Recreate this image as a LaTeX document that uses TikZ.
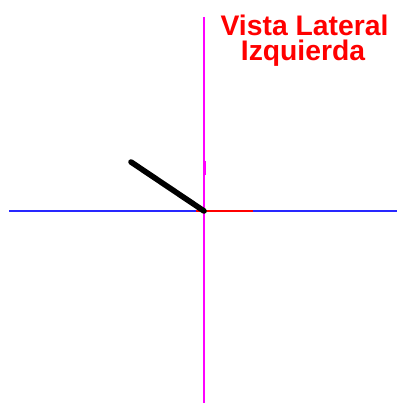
\documentclass[tikz,border=0pt]{standalone}
\usepackage{fontspec}
\setmainfont{Liberation Sans}
\begin{document}
\begin{tikzpicture}[x=1pt,y=-1pt,
  axisv/.style={draw={rgb,255:red,255;green,0;blue,255},line width=1.6pt},
  axish/.style={draw={rgb,255:red,40;green,40;blue,255},line width=1.4pt},
  axisr/.style={draw=red,line width=1.4pt},
  stick/.style={draw=black,line width=5.6pt,line cap=round},
  tick/.style={draw={rgb,255:red,255;green,0;blue,255},line width=2.4pt},
  title/.style={text=red,font=\fontsize{28.3}{24}\selectfont\bfseries,inner sep=0pt,anchor=base}]
\useasboundingbox[fill=white] (0,0) rectangle (397,403);
\coordinate (vtop) at (204,17);
\coordinate (vbot) at (204,403);
\coordinate (hl) at (9,211);
\coordinate (hr) at (397,211);
\coordinate (rl) at (196,211);
\coordinate (rr) at (253,211);
\coordinate (o) at (204,211);
\coordinate (s) at (131,162);
\coordinate (t1) at (205,161);
\coordinate (t2) at (205,175);
\draw[axisv] (vtop) -- (vbot);
\draw[axish] (hl) -- (hr);
\draw[axisr] (rl) -- (rr);
\draw[tick] (t1) -- (t2);
\draw[stick] (s) -- (o);
\node[title] (title1) at (304.5,36) {Vista Lateral};
\node[title] (title2) at (303,60.5) {Izquierda};
\end{tikzpicture}
\end{document}
